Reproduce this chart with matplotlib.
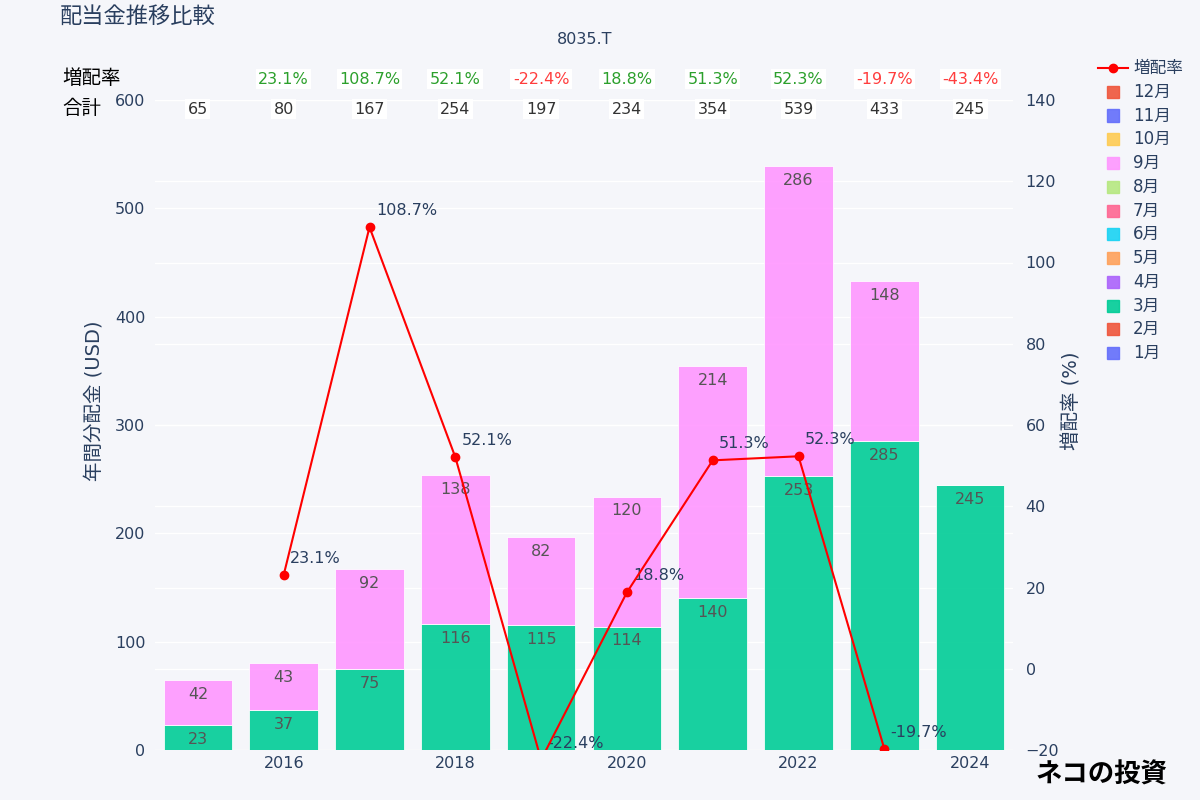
import matplotlib
matplotlib.use("Agg")
import matplotlib.pyplot as plt
from matplotlib.lines import Line2D
from matplotlib.patches import Rectangle
from matplotlib.transforms import blended_transform_factory

plt.rcParams['font.family'] = ['DejaVu Sans', 'Noto Sans CJK JP']

# データ
years = [2015, 2016, 2017, 2018, 2019, 2020, 2021, 2022, 2023, 2024]
mar_vals = [23, 37, 75, 116, 115, 114, 140, 253, 285, 245]
sep_vals = [42, 43, 92, 138, 82, 120, 214, 286, 148, 0]
growth = [None, 23.1, 108.7, 52.1, -22.4, 18.8, 51.3, 52.3, -19.7, -43.4]
months = [f"{i}月" for i in range(1, 13)]
month_colors = ['#636EFA', '#EF553B', '#00CC96', '#AB63FA', '#FFA15A', '#19D3F3',
                '#FF6692', '#B6E880', '#FF97FF', '#FECB52', '#636EFA', '#EF553B']

bg = '#F5F6FA'
txt = '#2a3f5f'

fig = plt.figure(figsize=(12, 8), dpi=100, facecolor=bg)
ax = fig.add_axes([155/1200, 50/800, 858/1200, 650/800])
ax.set_facecolor(bg)
ax2 = ax.twinx()
ax2.patch.set_visible(False)

# 棒グラフ (積み上げ)
ax.bar(years, mar_vals, width=0.8, color=month_colors[2], alpha=0.9,
       edgecolor='white', linewidth=0.6, zorder=2)
ax.bar(years, sep_vals, width=0.8, bottom=mar_vals, color=month_colors[8],
       alpha=0.9, edgecolor='white', linewidth=0.6, zorder=2)

for x, m, s in zip(years, mar_vals, sep_vals):
    if m > 0:
        ax.annotate(str(m), (x, m), xytext=(0, -5), textcoords='offset points',
                    ha='center', va='top', fontsize=11.5, color='#555555', zorder=3)
    if s > 0:
        ax.annotate(str(s), (x, m + s), xytext=(0, -5), textcoords='offset points',
                    ha='center', va='top', fontsize=11.5, color='#555555', zorder=3)

ax.set_xlim(2014.5, 2024.5)
ax.set_ylim(0, 600)
ax.set_yticks(range(0, 601, 100))
ax.set_xticks([2016, 2018, 2020, 2022, 2024])
ax2.set_ylim(-20, 140)
ax2.set_yticks(range(-20, 141, 20))
ax2.set_yticklabels([str(t).replace('-', '\u2212') for t in range(-20, 141, 20)])

# グリッド
ax.grid(axis='y', color='white', linewidth=1, zorder=0)
ax.set_axisbelow(True)
tr = blended_transform_factory(ax.transAxes, ax2.transData)
for t in range(-20, 141, 20):
    ax.add_line(Line2D([0, 1], [t, t], transform=tr, color='white', linewidth=1, zorder=0.5))

for a in (ax, ax2):
    for sp in a.spines.values():
        sp.set_visible(False)
    a.tick_params(length=0, labelsize=11.5, labelcolor=txt)
ax.tick_params(axis='y', pad=7)
ax.tick_params(axis='x', pad=4)
ax2.tick_params(axis='y', pad=9)

ax.set_ylabel('年間分配金 (USD)', fontsize=14, color=txt)
ax.yaxis.set_label_coords(-0.0606, 0.538)
ax2.set_ylabel('増配率 (%)', fontsize=14, color=txt)
ax2.yaxis.set_label_coords(1.057, 0.538)

# 増配率の折れ線
gx = [y for y, g in zip(years, growth) if g is not None]
gy = [g for g in growth if g is not None]
ax2.plot(gx, gy, color='red', linewidth=1.5, marker='o', markersize=6, zorder=5)
for x, g in zip(gx, gy):
    if g < -30:
        continue
    ax2.annotate(f"{g}%", (x, g), xytext=(4.5, 12), textcoords='offset points',
                 ha='left', va='center', fontsize=11.5, color=txt, annotation_clip=False)

# 上部の表
fig.text(62/1200, 1 - 79/800, '増配率', fontsize=14, color='black', va='center', ha='left')
fig.text(62/1200, 1 - 109/800, '合計', fontsize=14, color='black', va='center', ha='left')
for x, m, s, g in zip(years, mar_vals, sep_vals, growth):
    ax.annotate(str(m + s), (x, 1 - 109/800), xycoords=('data', 'figure fraction'),
                ha='center', va='center', fontsize=11.5, color='#333333',
                bbox=dict(boxstyle='square,pad=0.15', fc='white', ec='none'))
    if g is not None:
        col = '#2ca02c' if g >= 0 else '#ff3d3d'
        ax.annotate(f"{g}%", (x, 1 - 79/800), xycoords=('data', 'figure fraction'),
                    ha='center', va='center', fontsize=11.5, color=col,
                    bbox=dict(boxstyle='square,pad=0.15', fc='white', ec='none'))

# タイトル
fig.text(60/1200, 1 - 17/800, '配当金推移比較', fontsize=16, color=txt, va='center', ha='left')
fig.text(585/1200, 1 - 40/800, '8035.T', fontsize=11.5, color=txt, va='center', ha='center')

# 凡例
def fx(p):
    return p / 1200
def fy(p):
    return 1 - p / 800
fig.add_artist(Line2D([fx(1098), fx(1128)], [fy(68), fy(68)], color='red', linewidth=1.5))
fig.add_artist(Line2D([fx(1113)], [fy(68)], color='red', marker='o', markersize=6))
fig.text(fx(1133), fy(68), '増配率', fontsize=12, color=txt, va='center', ha='left')
step = (353 - 68) / 12
for i in range(12):
    idx = 11 - i
    yy = 68 + step * (i + 1)
    fig.add_artist(Rectangle((fx(1107), fy(yy + 6)), 12/1200, 12/800,
                             transform=fig.transFigure, color=month_colors[idx], alpha=0.9))
    fig.text(fx(1133), fy(yy), months[idx], fontsize=12, color=txt, va='center', ha='left')

# ロゴ
fig.text(fx(1036), fy(775), 'ネコの投資', fontsize=19, fontweight='bold', color='black',
         va='center', ha='left', family=['Noto Sans CJK JP'])

fig.savefig('out.png', dpi=100, facecolor=bg)
